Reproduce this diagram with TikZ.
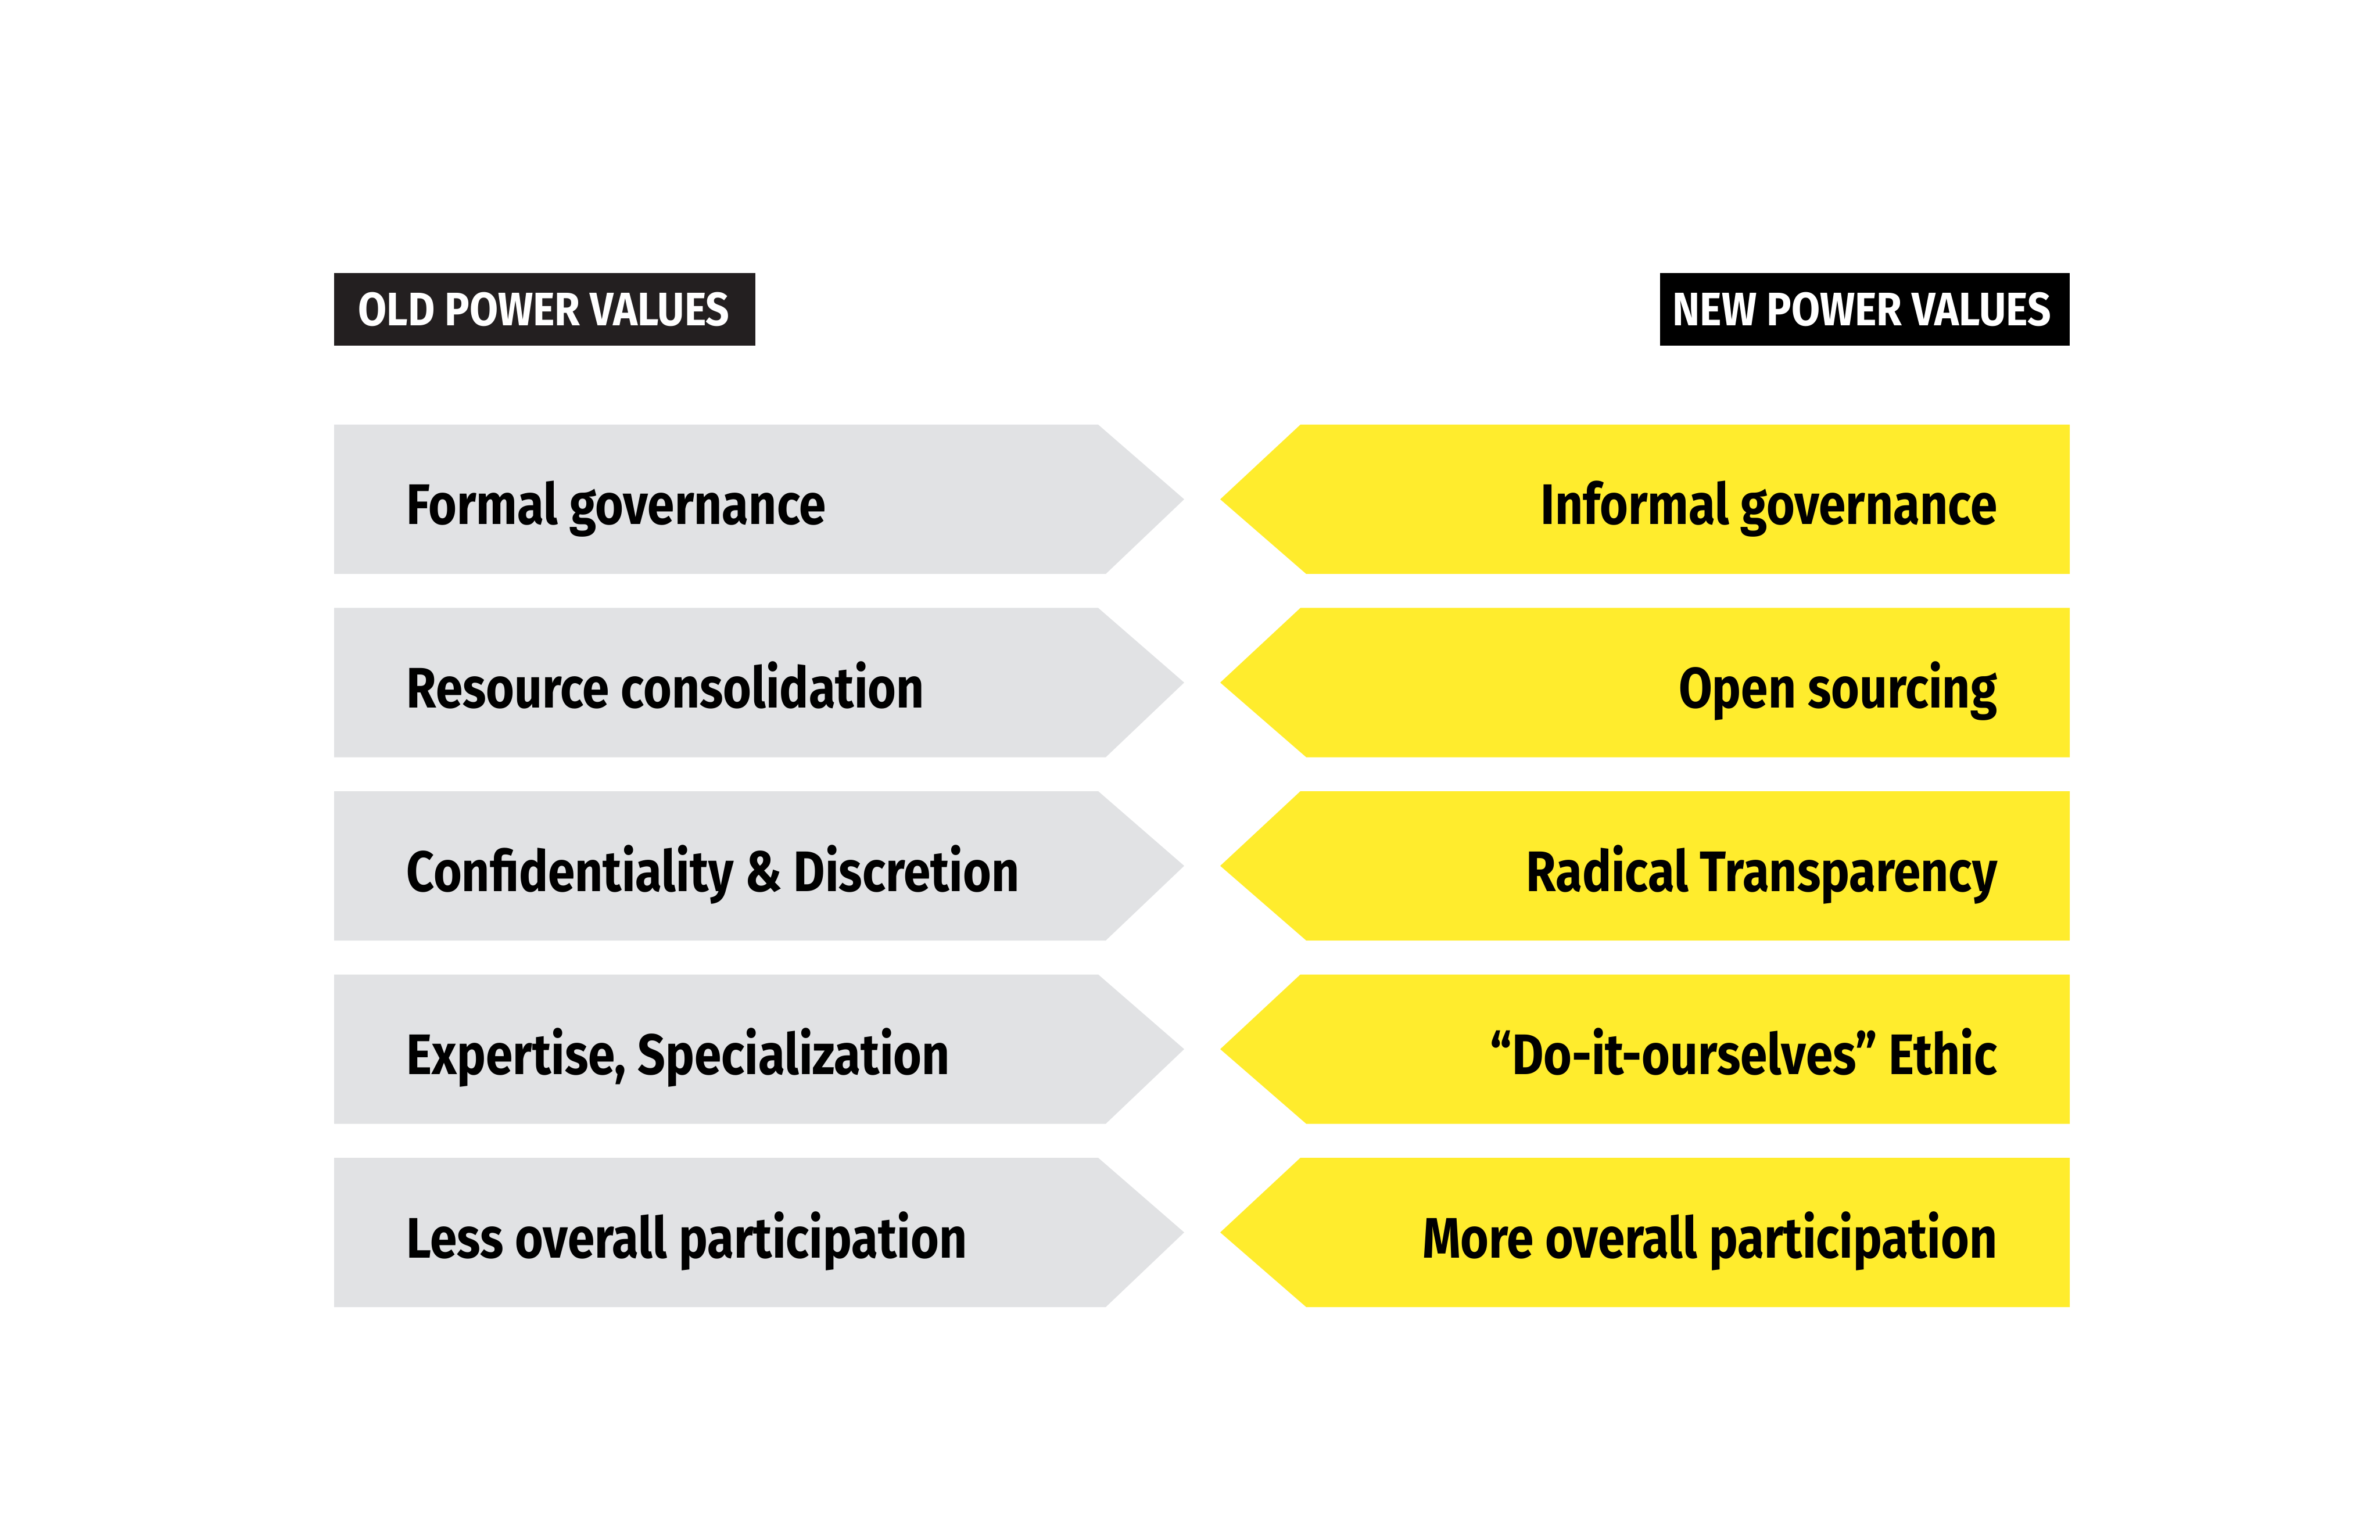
\documentclass[tikz,border=0pt]{standalone}
\usepackage{fontspec}
\setmainfont{Fira Sans}[FakeStretch=0.85]
\newfontfamily\headfont{Fira Sans}[FakeStretch=0.88]
\definecolor{oldgrey}{HTML}{E1E2E4}
\definecolor{newyellow}{HTML}{FFEC2D}
\definecolor{oldblack}{HTML}{231F20}
\begin{document}
\begin{tikzpicture}[
    rowtext/.style={font=\fontsize{28}{30}\selectfont\bfseries, inner sep=0pt},
    headtext/.style={font=\headfont\fontsize{23}{25}\selectfont\bfseries, text=white, inner sep=0pt}]
\useasboundingbox (0,0) rectangle (40.96,-26.51);
% headers
\fill[oldblack] (5.75,-4.70) rectangle (13.00,-5.95);
\node[headtext, anchor=base west] (oldhead) at (6.16,-5.61) {OLD POWER VALUES};
\fill[black] (28.57,-4.70) rectangle (35.62,-5.95);
\node[headtext, anchor=base east] (newhead) at (35.31,-5.61) {NEW POWER VALUES};
% rows of values
\foreach \i/\oldval/\newval in {
    1/{Formal governance}/{Informal governance},
    2/{Resource consolidation}/{Open sourcing},
    3/{Confidentiality \& Discretion}/{Radical Transparency},
    4/{Expertise, Specialization}/{“Do-it-ourselves” Ethic},
    5/{Less overall participation}/{More overall participation}} {
  \pgfmathsetmacro{\ytop}{-7.31-3.155*(\i-1)}
  \fill[oldgrey] (5.75,\ytop) -- (18.90,\ytop) -- (20.38,\ytop-1.285)
      -- (19.03,\ytop-2.57) -- (5.75,\ytop-2.57) -- cycle;
  \fill[newyellow] (35.62,\ytop) -- (22.38,\ytop) -- (21.00,\ytop-1.285)
      -- (22.48,\ytop-2.57) -- (35.62,\ytop-2.57) -- cycle;
  \node[rowtext, anchor=base west] (old\i) at (6.99,\ytop-1.72) {\oldval};
  \node[rowtext, anchor=base east] (new\i) at (34.38,\ytop-1.72) {\newval};
}
\end{tikzpicture}
\end{document}
